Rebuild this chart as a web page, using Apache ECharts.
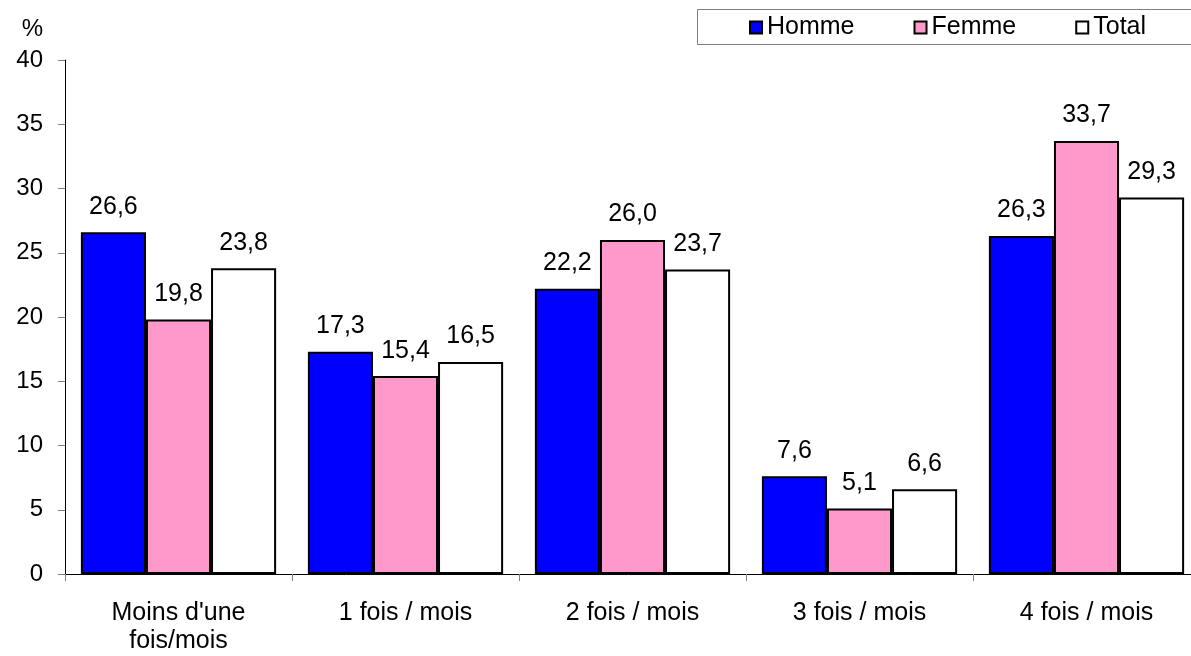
<!DOCTYPE html>
<html>
<head>
<meta charset="utf-8">
<script src="https://cdn.jsdelivr.net/npm/echarts@6/dist/echarts.min.js"></script>
<style>
  html, body { margin: 0; padding: 0; background: #fff; }
  #main { width: 1191px; height: 656px; }
</style>
</head>
<body>
<div id="main"></div>
<script>
// Data
var categories = ["Moins d'une\nfois/mois", "1 fois / mois", "2 fois / mois", "3 fois / mois", "4 fois / mois"];
var homme = [26.6, 17.3, 22.2, 7.6, 26.3];
var femme = [19.8, 15.4, 26.0, 5.1, 33.7];
var total = [23.8, 16.5, 23.7, 6.6, 29.3];
var seriesNames = ["Homme", "Femme", "Total"];
var seriesColors = ["#0000ff", "#ff99cc", "#ffffff"];

var FONT = "'Liberation Sans', Arial, sans-serif";

function fmt(v){
    //French decimal comma
    return v.toFixed(1).replace(".", ",");
}

function makeSeries(name, data, color){
    return {
        name: name,
        type: "bar",
        data: data,
        barGap: "0%",
        barCategoryGap: "14%",
        itemStyle: { color: color, borderColor: "#000", borderWidth: 2 },
        label: {
            show: true,
            position: "top",
            distance: 13,
            color: "#000",
            fontFamily: FONT,
            fontSize: 25,
            formatter: function (p) { return fmt(p.value); }
        }
    };
}

var chart = echarts.init(document.getElementById("main"));

chart.setOption({
    animation: false,
    backgroundColor: "#fff",
    grid: { left: 65, top: 60, width: 1135, height: 514, containLabel: false, outerBoundsMode: "none" },
    graphic: [{
        type: "rect",
        left: 697, top: 9,
        shape: { width: 520, height: 35 },
        style: { fill: "#fff", stroke: "#808080", lineWidth: 1 },
        z: 0
    }],
    legend: {
        left: 749, top: 15,
        padding: 0,
        itemWidth: 12, itemHeight: 12,
        itemGap: 59,
        icon: "rect",
        textStyle: { fontFamily: FONT, fontSize: 25, color: "#000" },
        data: seriesNames,
        z: 5
    },
    xAxis: {
        type: "category",
        data: categories,
        axisLine: { lineStyle: { color: "#000", width: 1 } },
        axisTick: { show: true, length: 7, lineStyle: { color: "#808080" } },
        axisLabel: { color: "#000", fontFamily: FONT, fontSize: 25, lineHeight: 28, margin: 25, interval: 0 }
    },
    yAxis: {
        type: "value",
        min: 0, max: 40, interval: 5,
        name: "%",
        nameLocation: "end",
        nameGap: 19,
        nameTextStyle: { color: "#000", fontFamily: FONT, fontSize: 24, align: "right", padding: [0, 22, 0, 0] },
        splitLine: { show: false },
        axisLine: { show: true, lineStyle: { color: "#000", width: 1 } },
        axisTick: { show: true, length: 7, lineStyle: { color: "#808080" } },
        axisLabel: { color: "#000", fontFamily: FONT, fontSize: 24, margin: 22 }
    },
    series: [
        makeSeries(seriesNames[0], homme, seriesColors[0]),
        makeSeries(seriesNames[1], femme, seriesColors[1]),
        makeSeries(seriesNames[2], total, seriesColors[2])
    ]
});
</script>
</body>
</html>
